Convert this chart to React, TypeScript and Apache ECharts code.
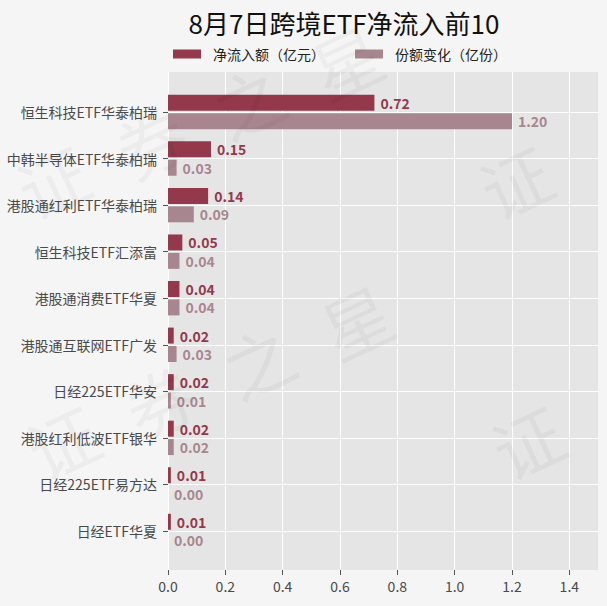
import React, { useEffect, useRef } from "react";
import * as echarts from "echarts";

const categories = [
  "恒生科技ETF华泰柏瑞",
  "中韩半导体ETF华泰柏瑞",
  "港股通红利ETF华泰柏瑞",
  "恒生科技ETF汇添富",
  "港股通消费ETF华夏",
  "港股通互联网ETF广发",
  "日经225ETF华安",
  "港股红利低波ETF银华",
  "日经225ETF易方达",
  "日经ETF华夏",
];
const netInflow = [0.72, 0.15, 0.14, 0.05, 0.04, 0.02, 0.02, 0.02, 0.01, 0.01];
const shareChange = [1.2, 0.03, 0.09, 0.04, 0.04, 0.03, 0.01, 0.02, 0.0, 0.0];
const xTicks = [0, 0.2, 0.4, 0.6, 0.8, 1.0, 1.2, 1.4];
const seriesNames = ["净流入额（亿元）", "份额变化（亿份）"];
const titleText = "8月7日跨境ETF净流入前10";
const watermarkChars = ["证", "券", "之", "星"];

const FONT = "'Noto Sans CJK SC', 'Noto Sans', sans-serif";
const DARK = "#93394b";
const LIGHT = "#a8868f";
const LABEL = "#4a4a4a";

export default function App() {
  const ref = useRef<HTMLDivElement>(null);
  useEffect(() => {
    const chart = echarts.init(ref.current!, null, { renderer: "svg" });

    // faint watermark, only glyphs that fit fully inside the canvas
    const starts = [
      [52, 180],
      [62, 440],
      [515, 180],
      [527, 440],
    ];
    const W = 607;
    const H = 606;
    const half = 48;
    const wm: any[] = [];
    starts.forEach(([sx, sy]) => {
      watermarkChars.forEach((ch, i) => {
        const x = sx + i * 98;
        const y = sy - i * 40;
        if (x < half || x > W - half || y < half || y > H - half) return;
        wm.push({
          type: "text",
          x,
          y,
          rotation: (25 * Math.PI) / 180,
          silent: true,
          z: 100,
          style: {
            text: ch,
            fill: "rgba(0,0,0,0.035)",
            font: `70px ${FONT}`,
            align: "center",
            verticalAlign: "middle",
          },
        });
      });
    });

    chart.setOption({
      animation: false,
      backgroundColor: "#f5f5f5",
      textStyle: { fontFamily: FONT },
      title: {
        text: titleText,
        left: 339,
        textAlign: "center",
        top: 4,
        textStyle: { fontSize: 26, fontWeight: "normal", color: "#111", fontFamily: FONT },
      },
      legend: {
        data: seriesNames,
        left: 173,
        top: 47,
        padding: 0,
        icon: "rect",
        itemWidth: 28,
        itemHeight: 9,
        itemGap: 30,
        textStyle: { fontSize: 14, color: "#222", fontFamily: FONT, padding: [0, 0, 0, 7] },
      },
      grid: [
        {
          left: 168,
          top: 72,
          width: 430,
          height: 498,
          show: true,
          backgroundColor: "#e5e5e5",
          borderWidth: 0,
        },
        { left: 168, top: 112, width: 430, height: 419 },
      ],
      xAxis: [
        {
          gridIndex: 0,
          type: "value",
          min: 0,
          max: 1.5,
          interval: 0.2,
          axisLine: { show: false },
          axisTick: { show: true, length: 5, lineStyle: { color: "#555" }, customValues: xTicks },
          axisLabel: {
            color: LABEL,
            fontSize: 14,
            margin: 9,
            fontFamily: FONT,
            customValues: xTicks,
            formatter: (v: number) => v.toFixed(1),
          },
          splitLine: { show: true, lineStyle: { color: "#ffffff", width: 1 } },
        },
        { gridIndex: 1, type: "value", min: 0, max: 1.5, show: false },
      ],
      yAxis: [
        { gridIndex: 0, type: "value", min: 0, max: 1, show: false },
        {
          gridIndex: 1,
          type: "category",
          data: categories,
          inverse: true,
          boundaryGap: false,
          axisLine: { show: false },
          axisTick: { show: true, length: 5, lineStyle: { color: "#555" } },
          axisLabel: { color: LABEL, fontSize: 14, margin: 11, fontFamily: FONT },
          splitLine: { show: true, lineStyle: { color: "#ffffff", width: 1 } },
        },
      ],
      series: [
        {
          name: seriesNames[0],
          type: "bar",
          xAxisIndex: 1,
          yAxisIndex: 1,
          data: netInflow,
          barWidth: 16,
          barGap: "15%",
          clip: false,
          itemStyle: { color: DARK },
          label: {
            show: true,
            position: "right",
            distance: 6,
            color: DARK,
            fontWeight: "bold",
            fontSize: 14,
            fontFamily: FONT,
            formatter: (p: any) => Number(p.value).toFixed(2),
          },
        },
        {
          name: seriesNames[1],
          type: "bar",
          xAxisIndex: 1,
          yAxisIndex: 1,
          data: shareChange,
          barWidth: 16,
          barGap: "15%",
          clip: false,
          itemStyle: { color: LIGHT },
          label: {
            show: true,
            position: "right",
            distance: 6,
            color: LIGHT,
            fontWeight: "bold",
            fontSize: 14,
            fontFamily: FONT,
            formatter: (p: any) => Number(p.value).toFixed(2),
          },
        },
      ],
      graphic: wm,
    });
    return () => chart.dispose();
  }, []);
  return (
    <div
      ref={ref}
      style={{ position: "fixed", left: 0, top: 0, width: 607, height: 606 }}
    />
  );
}
